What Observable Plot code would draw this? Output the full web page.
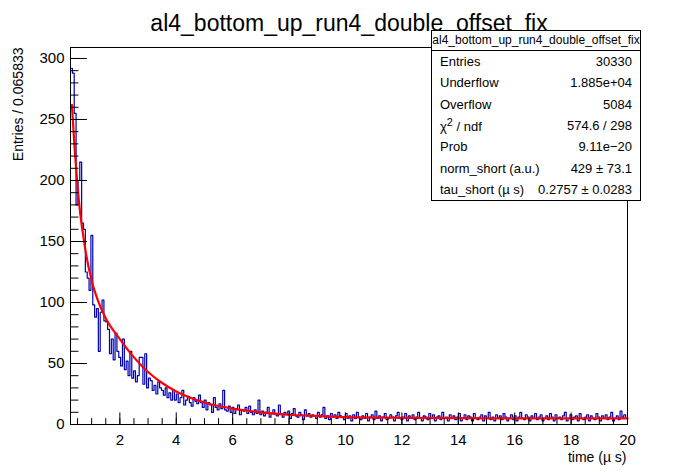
<!DOCTYPE html>
<html><head><meta charset="utf-8">
<script src="https://cdn.jsdelivr.net/npm/d3@7"></script>
<script src="https://cdn.jsdelivr.net/npm/@observablehq/plot@0.6"></script>
<style>
body{margin:0;background:#fff;font-family:"Liberation Sans",Arial,sans-serif}
#wrap{position:relative;width:696px;height:472px}
#stats{position:absolute;left:431px;top:30px;width:208px;border:1px solid #000;background:#fff;font-size:13px}
#stats .t{text-align:center;border-bottom:1px solid #000;padding:2px 0 3px;font-size:12px}
#stats .r{display:flex;justify-content:space-between;padding:0 8px;height:21.3px;align-items:center}
</style></head><body>
<div id="wrap"><div id="chart"></div>
<div id="stats"><div class="t">al4_bottom_up_run4_double_offset_fix</div></div></div>
<script>
const title = "al4_bottom_up_run4_double_offset_fix";
const binStart = 0.25, binWidth = 0.065833;
const counts = [
292,288,255,180,200,215,165,160,125,120,110,
155,98,88,95,60,92,102,85,84,78,58,70,53,75,60,
55,48,70,45,52,40,60,38,44,35,40,55,55,33,58,
30,38,36,28,32,25,35,30,28,24,30,22,26,20,28,
20,25,18,22,28,16,20,23,18,15,22,19,17,24,18,
14,20,12,18,16,10,22,14,12,17,13,28,12,11,15,
10,14,9,13,16,8,12,11,14,9,15,10,8,12,9,
20,8,11,7,10,14,6,9,12,8,7,16,9,6,10,
8,11,5,9,13,7,6,10,8,4,12,7,9,6,8,
7,5,10,6,8,14,5,7,4,9,6,8,5,10,7,
6,4,9,5,7,3,8,5,10,6,4,7,5,9,3,
6,8,4,11,5,7,3,6,9,4,5,8,6,3,7,
10,5,4,6,9,3,7,5,8,4,6,10,5,3,7,
6,4,9,5,8,3,6,7,4,10,5,6,3,8,5,
7,4,6,9,3,5,8,4,7,6,3,9,5,4,6,
8,3,7,5,10,4,6,3,8,5,7,4,9,6,3,
5,8,4,7,3,6,10,5,4,8,6,3,7,5,9,
4,6,8,3,5,7,4,9,6,3,8,5,6,4,7,
10,3,5,8,4,6,7,3,9,5,4,6,8,3,7,
5,4,9,6,3,7,5,8,4,6,10,3,5,7,4,
11,6,8,5
];
const fitT = [0.3,0.4,0.5,0.6,0.7,0.8,1.0,1.2,1.5,2,2.5,3,3.5,4,5,6,7,8,9,10,12,14,17,20];
const fitY = [262,225,195,172,155,140,118,103,87,70,55,43,34,27,18,13,10,8,7,6,5.5,5.2,5,5];
const statLabels = ["Entries","Underflow","Overflow","χ<sup>2</sup> / ndf","Prob","norm_short (a.u.)","tau_short (µ s)"];
const statValues = ["30330","1.885e+04","5084","574.6 / 298","9.11e−20","429 ± 73.1","0.2757 ± 0.0283"];
const xMajor = [2,4,6,8,10,12,14,16,18,20];
const yMajor = [0,50,100,150,200,250,300];

const steps = [];
counts.forEach((c,i)=>{const a=binStart+i*binWidth; steps.push({x:a,y:c},{x:a+binWidth,y:c});});
const fit = fitT.map((t,i)=>({t,y:fitY[i]}));
const x0 = binStart, x1 = 20, y1 = 309;
const xMinor = d3.range(0.5,20.01,0.5).filter(v=>v>=x0);
const yMinor = d3.range(0,309,10);

const svg = Plot.plot({
  width:696,height:472,marginLeft:70,marginRight:69,marginTop:47,marginBottom:48,
  style:{fontFamily:"Liberation Sans, Arial, sans-serif",fontSize:"15px",color:"#000"},
  x:{domain:[x0,x1],ticks:xMajor,tickSize:0,tickPadding:10,label:null},
  y:{domain:[0,y1],ticks:yMajor,tickSize:0,tickPadding:6,label:null},
  marks:[
    Plot.line(steps,{x:"x",y:"y",stroke:"#0000b0",strokeWidth:1.2}),
    Plot.line(fit,{x:"t",y:"y",stroke:"#ff0000",strokeWidth:2.2,curve:"monotone-x"}),
    Plot.ruleX(xMajor,{y1:0,y2:9.5,stroke:"#000"}),
    Plot.ruleX(xMinor,{y1:0,y2:4.8,stroke:"#000"}),
    Plot.ruleY(yMajor,{x1:x0,x2:x0+0.6,stroke:"#000"}),
    Plot.ruleY(yMinor,{x1:x0,x2:x0+0.3,stroke:"#000"}),
    Plot.frame({stroke:"#000"}),
    Plot.text([title],{frameAnchor:"top",dy:-33,fontSize:23,text:d=>d}),
    Plot.text(["time (µ s)"],{frameAnchor:"bottom-right",dy:28,dx:-1,textAnchor:"end",lineAnchor:"top",fontSize:14,text:d=>d}),
    Plot.text(["Entries / 0.065833"],{frameAnchor:"top-left",dx:-57,dy:0,rotate:-90,textAnchor:"end",fontSize:14,text:d=>d})
  ]
});
document.getElementById("chart").appendChild(svg);
const st=document.getElementById("stats");
statLabels.forEach((l,i)=>{const r=document.createElement("div");r.className="r";r.innerHTML=`<span>${l}</span><span>${statValues[i]}</span>`;st.appendChild(r);});
</script></body></html>
